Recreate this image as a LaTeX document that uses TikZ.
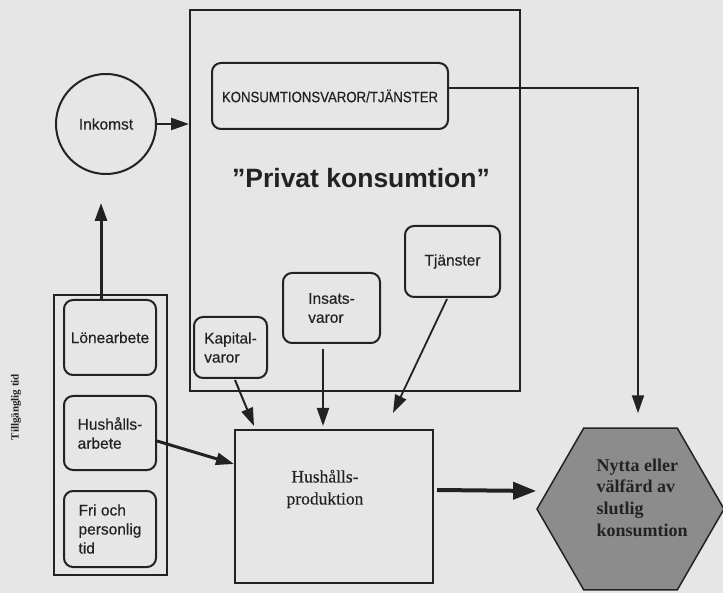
\documentclass[tikz,border=0pt]{standalone}
\usepackage{fontspec}
\setmainfont{Liberation Serif}
\setsansfont{Liberation Sans}
\newfontfamily\lblsans[FakeBold=0.4]{Liberation Sans}
\newfontfamily\condsans[FakeStretch=0.88,FakeBold=0.4]{Liberation Sans}
\newfontfamily\lblserif[FakeBold=0.3]{Liberation Serif}
\begin{document}
\usetikzlibrary{arrows.meta,shapes.geometric,calc}
\definecolor{paper}{HTML}{E6E6E6}
\definecolor{inkc}{HTML}{222222}
\definecolor{hexfill}{HTML}{8C8C8C}
\begin{tikzpicture}[x=1pt,y=-1pt,
  lbl/.style={font=\lblsans\fontsize{15.5}{19}\selectfont, align=left, text=inkc},
  rbox/.style={lbl, draw=inkc, line width=2pt, rounded corners=9pt, inner sep=0pt},
  sbox/.style={draw=inkc, line width=2pt, inner sep=0pt},
  arr/.style={draw=inkc, -{Triangle[length=18pt,width=12pt]}},
  bigarr/.style={draw=inkc, -{Triangle[length=23pt,width=17pt]}}
]
\useasboundingbox (0,0) rectangle (723,593);
\fill[paper] (0,0) rectangle (723,593);
\clip (0,0) rectangle (723,593);

% containers
\node[sbox, minimum width=330pt, minimum height=381pt] (priv) at (355,200.5) {};
\node[sbox, minimum width=113pt, minimum height=280pt] (tid) at (110.5,435) {};
\node[sbox, minimum width=198pt, minimum height=153pt] (hp) at (334,506.5) {};

% texts
\node[font=\sffamily\bfseries\fontsize{26.5}{30}\selectfont, text=inkc] (pk) at (361,178) {”Privat konsumtion”};
\node[font=\lblserif\fontsize{17.5}{22}\selectfont, align=center, text=inkc] (hpt) at (325,489) {Hushålls-\\produktion};
\node[rotate=90, font=\bfseries\fontsize{11}{13}\selectfont, text=inkc] (ttl) at (16,407) {Tillgänglig tid};

% rounded boxes
\node[rbox, font=\condsans\fontsize{15}{18}\selectfont, minimum width=236pt, minimum height=66pt] (kons) at (330,96) {KONSUMTIONSVAROR/TJÄNSTER};
\node[rbox, minimum width=92pt, minimum height=75pt] (lon) at (110,337.5) {Lönearbete};
\node[rbox, minimum width=92pt, minimum height=74pt] (ha) at (110,433) {Hushålls-\\arbete};
\node[rbox, minimum width=92pt, minimum height=76pt] (fri) at (110,529) {Fri och\\personlig\\tid};
\node[rbox, minimum width=73pt, minimum height=61pt] (kap) at (230.5,347.5) {Kapital-\\varor};
\node[rbox, minimum width=97pt, minimum height=70pt] (ins) at (331.5,308) {Insats-\\varor};
\node[rbox, minimum width=95pt, minimum height=71pt] (tj) at (452.5,261.5) {Tjänster};

% circle
\node[circle, draw=inkc, line width=2pt, minimum size=100pt, inner sep=0pt, lbl] (ink) at (106,124) {Inkomst};

% hexagon
\node[regular polygon, regular polygon sides=6, minimum size=187pt, draw=inkc, line width=1.5pt, fill=hexfill, inner sep=0pt] (hex) at (630.5,509) {};
\node[font=\bfseries\fontsize{18}{21.7}\selectfont, align=left, anchor=west, text=inkc] (hext) at (593,497.5) {Nytta eller\\välfärd av\\slutlig\\konsumtion};

% connectors
\draw[arr, line width=2.5pt] (ink.east) -- (ink.east -| priv.west);
\draw[arr, line width=3pt] ($(lon.north)+(-9,0)$) -- ($(ink.south)+(-5,28)$);
\draw[arr, line width=2pt] ($(kons.east)+(0,-8)$) -| ($(hex.north)+(7.5,-14)$);
\draw[arr, line width=2pt] ($(kap.south)+(4.5,1)$) -- ($(hp.north west)+(20,-3)$);
\draw[arr, line width=2pt] ($(ins.south)+(-8.5,5)$) -- ($(ins.south |- hp.north)+(-8.5,-3)$);
\draw[arr, line width=1.8pt] ($(tj.south)+(-5.5,1)$) -- ($(hp.north east)+(-41,-16)$);
\draw[arr, line width=3pt] ($(ha.east)+(0,8)$) -- ($(hp.north west)+(0,35)$);
\draw[bigarr, line width=4pt] ($(hp.north east)+(3,61)$) -- ($(hex.west)+(0,-18)$);
\end{tikzpicture}
\end{document}
